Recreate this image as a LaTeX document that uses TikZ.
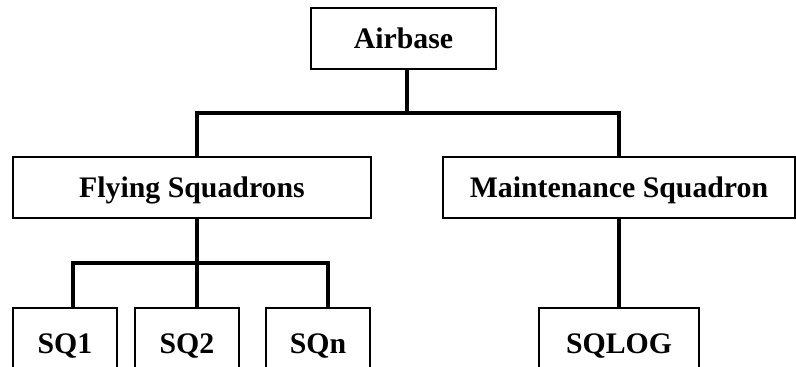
\documentclass[tikz,border=0pt]{standalone}
\usepackage{fontspec}
\setmainfont{Liberation Serif}
\usepackage{tikz}

\tikzset{
  box/.style={draw, line width=1.5pt, rectangle, inner sep=0pt, minimum height=61pt,
    font=\fontsize{29.8}{34}\selectfont\bfseries, text height=19.7pt, text depth=0pt},
  link/.style={line width=4.5pt}
}

\begin{document}
\begin{tikzpicture}[x=1pt,y=-1pt]
  \useasboundingbox (0,0) rectangle (796,367);
  \clip (0,0) rectangle (796,367);
  \node[box, minimum width=185pt] (air) at (403.5,38.5) {Airbase};
  \node[box, minimum width=358pt] (fly) at (192,187.5) {Flying Squadrons};
  \node[box, minimum width=352pt] (mnt) at (619,187.5) {Maintenance Squadron};
  \node[box, minimum width=104pt, minimum height=71pt] (sq1) at (65,343.5) {SQ1};
  \node[box, minimum width=104pt, minimum height=71pt] (sq2) at (187,343.5) {SQ2};
  \node[box, minimum width=104pt, minimum height=71pt] (sqn) at (318,343.5) {SQn};
  \node[box, minimum width=160pt, minimum height=71pt] (sqlog) at (619,343.5) {SQLOG};
  \coordinate (top bus) at (407,113);
  \coordinate (fly bus) at (197,263);
  \draw[link] (air.south -| top bus) -- (top bus);
  \draw[link] (fly.north -| fly bus) |- (top bus) -| (mnt.north);
  \draw[link] (fly.south -| fly bus) -- (fly bus);
  \draw[link] ([xshift=8pt]sq1.north) |- (fly bus);
  \draw[link] (sq2.north -| fly bus) -- (fly bus);
  \draw[link] ([xshift=10pt]sqn.north) |- (fly bus);
  \draw[link] (mnt.south) -- (sqlog.north);
\end{tikzpicture}
\end{document}
